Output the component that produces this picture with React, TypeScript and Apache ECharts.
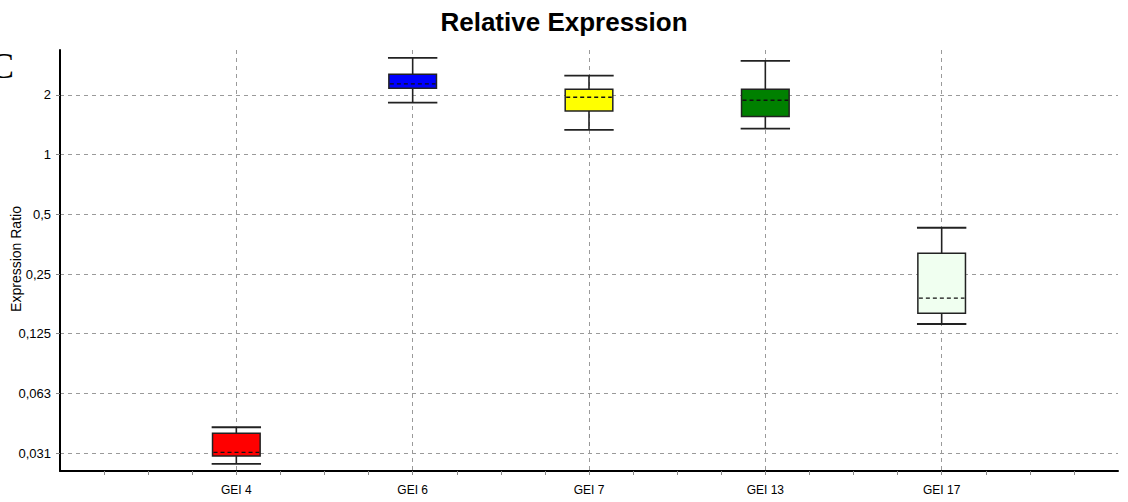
import React, { useEffect, useRef } from "react";
import * as echarts from "echarts";

const categories = ["GEI 4", "GEI 6", "GEI 7", "GEI 13", "GEI 17"];
const whiskerLow = [0.0276, 1.829, 1.332, 1.353, 0.14];
const q1 = [0.0302, 2.162, 1.661, 1.555, 0.1585];
const median = [0.0315, 2.272, 1.947, 1.88, 0.189];
const q3 = [0.0394, 2.544, 2.136, 2.136, 0.318];
const whiskerHigh = [0.0422, 3.074, 2.502, 2.969, 0.428];
const boxColors = ["#ff0000", "#0000ff", "#ffff00", "#008000", "#f0fff0"];
const tickValues = [0.03125, 0.0625, 0.125, 0.25, 0.5, 1, 2];
const tickLabels = ["0,031", "0,063", "0,125", "0,25", "0,5", "1", "2"];
const yMinRatio = 0.0254;
const yMaxRatio = 3.37;

const FONT = "'Liberation Sans', Arial, sans-serif";

export default function App() {
  const ref = useRef<HTMLDivElement>(null);
  useEffect(() => {
    if (!ref.current) return;
    const chart = echarts.init(ref.current, null, { renderer: "svg" });
    const logTicks = tickValues.map((v) => Math.log2(v));
    const data = categories.map((_, i) => [
      i + 1,
      Math.log2(whiskerLow[i]),
      Math.log2(q1[i]),
      Math.log2(median[i]),
      Math.log2(q3[i]),
      Math.log2(whiskerHigh[i]),
      i,
    ]);
    const gridLine = { color: "#9a9a9a", type: [4, 4] as any, width: 1 };
    chart.setOption({
      animation: false,
      backgroundColor: "#ffffff",
      title: {
        text: "Relative Expression",
        left: "center",
        top: 4,
        textStyle: { fontSize: 26, fontWeight: "bold", color: "#000", fontFamily: FONT },
      },
      graphic: [
        {
          type: "text",
          left: -10,
          top: 48,
          style: { text: "C", font: "36px 'Liberation Serif', serif", fill: "#000" },
        },
        {
          type: "text",
          x: 16,
          y: 259,
          rotation: Math.PI / 2,
          style: {
            text: "Expression Ratio",
            font: "14px 'Liberation Sans', Arial, sans-serif",
            fill: "#000",
            align: "center",
            verticalAlign: "middle",
          },
        },
      ],
      grid: { left: 60, right: 10, top: 50, bottom: 31, containLabel: false, outerBoundsMode: "none" },
      xAxis: {
        type: "value",
        min: 0,
        max: 6,
        interval: 1,
        axisLine: { show: true, onZero: false, lineStyle: { color: "#000", width: 2 } },
        axisTick: { show: true, length: 4, customValues: [1, 2, 3, 4, 5], lineStyle: { color: "#888" } },
        minorTick: { show: true, splitNumber: 4, length: 4, lineStyle: { color: "#888" } },
        axisLabel: {
          customValues: [1, 2, 3, 4, 5],
          formatter: (v: number) => categories[Math.round(v) - 1] ?? "",
          fontSize: 12,
          color: "#000",
          fontFamily: FONT,
          margin: 13,
        },
        splitLine: { show: true, lineStyle: gridLine },
      },
      yAxis: {
        type: "value",
        min: Math.log2(yMinRatio),
        max: Math.log2(yMaxRatio),
        axisLine: { show: true, onZero: false, lineStyle: { color: "#000", width: 2 } },
        axisTick: { show: true, length: 4, customValues: logTicks, lineStyle: { color: "#888" } },
        axisLabel: {
          customValues: logTicks,
          formatter: (v: number) => {
            const idx = logTicks.findIndex((t) => Math.abs(t - v) < 1e-6);
            return idx >= 0 ? tickLabels[idx] : "";
          },
          fontSize: 13,
          color: "#000",
          fontFamily: FONT,
          margin: 9,
        },
        splitLine: { show: true, lineStyle: gridLine },
      },
      series: [
        {
          type: "custom",
          data,
          encode: { x: 0, y: [1, 2, 3, 4, 5] },
          renderItem: (params: any, api: any) => {
            const x = api.value(0);
            const idx = api.value(6);
            const pLow = api.coord([x, api.value(1)]);
            const pQ1 = api.coord([x, api.value(2)]);
            const pMed = api.coord([x, api.value(3)]);
            const pQ3 = api.coord([x, api.value(4)]);
            const pHigh = api.coord([x, api.value(5)]);
            const w = api.size([0.27, 0])[0];
            const capW = api.size([0.28, 0])[0];
            const cx = pLow[0];
            const stroke = "#222";
            return {
              type: "group",
              children: [
                { type: "line", shape: { x1: cx, y1: pHigh[1], x2: cx, y2: pQ3[1] }, style: { stroke, lineWidth: 1.6 } },
                { type: "line", shape: { x1: cx, y1: pQ1[1], x2: cx, y2: pLow[1] }, style: { stroke, lineWidth: 1.6 } },
                { type: "line", shape: { x1: cx - capW / 2, y1: pHigh[1], x2: cx + capW / 2, y2: pHigh[1] }, style: { stroke, lineWidth: 1.8 } },
                { type: "line", shape: { x1: cx - capW / 2, y1: pLow[1], x2: cx + capW / 2, y2: pLow[1] }, style: { stroke, lineWidth: 1.8 } },
                {
                  type: "rect",
                  shape: { x: cx - w / 2, y: pQ3[1], width: w, height: pQ1[1] - pQ3[1] },
                  style: { fill: boxColors[idx], stroke, lineWidth: 1.5 },
                },
                {
                  type: "line",
                  shape: { x1: cx - w / 2 + 1, y1: pMed[1], x2: cx + w / 2 - 1, y2: pMed[1] },
                  style: { stroke: "#111", lineWidth: 1.3, lineDash: [4, 3] },
                },
              ],
            };
          },
        },
      ],
    });
    return () => chart.dispose();
  }, []);
  return <div ref={ref} style={{ position: "absolute", left: 0, top: 0, width: 1128, height: 502 }} />;
}
